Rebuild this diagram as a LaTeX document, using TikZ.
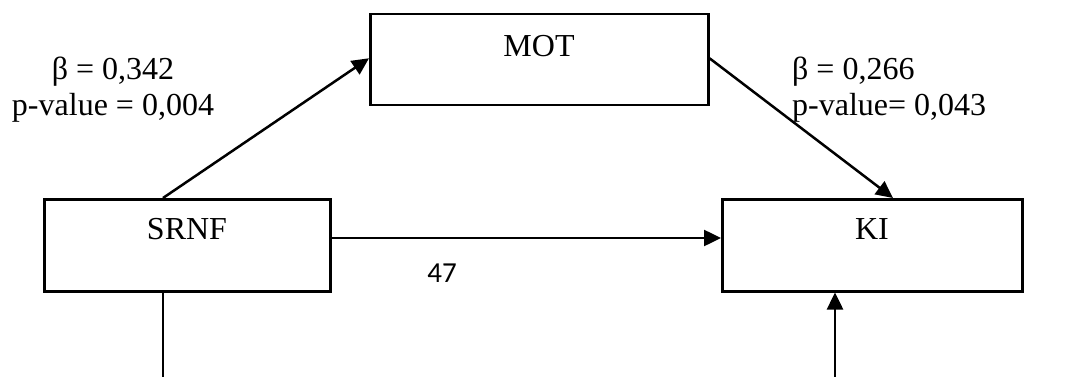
\documentclass[tikz,border=0pt]{standalone}
\usepackage{fontspec}
\setmainfont{Liberation Serif}
\newfontfamily\calfont{Carlito}
\usetikzlibrary{arrows.meta,calc}
\tikzset{
  boxnode/.style={draw=black,line width=2.5pt,minimum width=#1,inner sep=0pt,anchor=north west},
  conn/.style={line width=2.5pt,draw=black},
  arr/.style={conn,-{Triangle[length=17pt,width=16pt]}},
  lbl/.style={font=\fontsize{32}{36}\selectfont,inner sep=0pt},
}
\begin{document}
\begin{tikzpicture}[x=1pt,y=-1pt]
\useasboundingbox (0,0) rectangle (1087,377);
% boxes
\node[boxnode=338pt,minimum height=91pt] (mot) at (369,13) {};
\node[boxnode=286pt,minimum height=92pt] (srnf) at (43,198) {};
\node[boxnode=300pt,minimum height=92pt] (ki) at (721,198) {};
% box texts
\node[lbl] (tmot) at (539,46) {MOT};
\node[lbl] (tsrnf) at (187,229) {SRNF};
\node[lbl] (tki) at (872,229) {KI};
% free ends
\coordinate (srnfdown) at (163,377);
\coordinate (kiup) at (835,377);
% connectors
\draw[arr] ([xshift=120pt]srnf.north west) -- ([yshift=1.5pt]mot.west);
\draw[arr] ([yshift=1.5pt]mot.east) -- ([xshift=172pt]ki.north west);
\draw[arr] ([yshift=-40pt]srnf.north east) -- ([yshift=-40pt]ki.north west);
\draw[conn] ([xshift=120pt]srnf.south west) -- (srnfdown);
\draw[arr] (kiup) -- ([xshift=114pt]ki.south west);
% labels
\node[lbl,align=center] (l1) at (113,90) {β = 0,342\\p-value = 0,004};
\node[lbl,align=left,anchor=west] (l2) at (792,90) {β = 0,266\\ p-value= 0,043};
\node[font=\calfont\fontsize{29}{32}\selectfont,inner sep=0pt] (n47) at (442,273) {47};
\end{tikzpicture}
\end{document}
